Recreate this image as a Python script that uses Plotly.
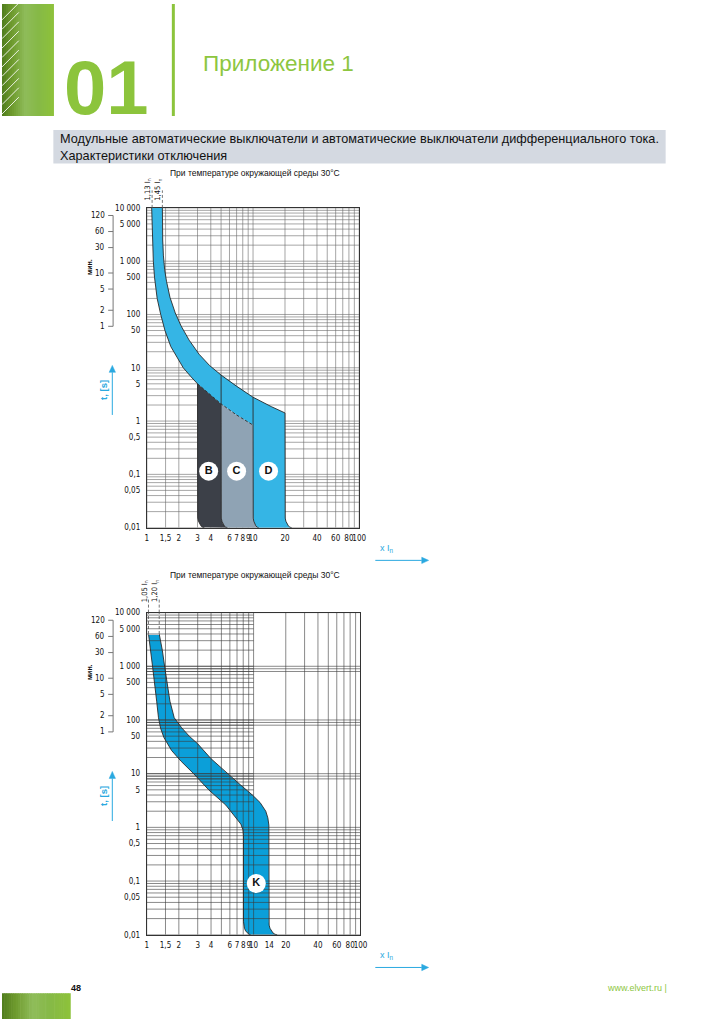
import math
import plotly.graph_objects as go

W, H = 724, 1024

# ===================== DATA =====================
# Chart 1 - thermal band of B/C/D (x = multiple of In, t = seconds)
LO_X = [1.11, 1.12, 1.13, 1.15, 1.18, 1.25, 1.35, 1.48, 1.68, 1.95, 2.2, 2.6, 3.0, 4.0, 5.0, 7.0, 10.0]
LO_T = [10000, 5000, 2000, 1000, 500, 200, 100, 50, 25, 15, 10, 6.8, 5, 3, 2.1, 1.3, 0.84]
HI_X = [1.40, 1.40, 1.41, 1.43, 1.47, 1.53, 1.65, 1.85, 2.1, 2.5, 3.1, 3.9, 5.0, 7.0, 10.0, 15.0, 20.0]
HI_T = [10000, 5000, 2500, 1300, 700, 420, 210, 107, 61, 33, 18, 11, 7.3, 4.5, 2.8, 1.85, 1.42]
# magnetic trip limits (vertical edges) and where their rounded foot meets t = 0.01
EDGE_X = [3.0, 5.0, 10.0, 20.0]
EDGE_FOOT_X = [3.48, 5.74, 11.3, 23.1]
ZONE_NAMES = ["B", "C", "D"]
ZONE_LBL_X = [3.82, 7.0, 14.0]
ZONE_LBL_T = [0.115, 0.115, 0.115]
LIMITS_1 = [1.12, 1.40]
LIMITS_1_LBL = ["1,13 I<sub>n</sub>", "1,45 I<sub>n</sub>"]

# Chart 2 - K characteristic
K_LO_X = [1.04, 1.09, 1.14, 1.24, 1.29, 1.35, 1.45, 1.71, 2.1, 2.75, 3.8, 5.5, 6.9, 7.6, 7.95, 8.05]
K_LO_T = [4000, 2000, 925, 224, 110, 70, 47, 27, 17, 10, 5, 2.6, 1.5, 1.15, 0.9, 0.7]
K_HI_X = [1.31, 1.40, 1.48, 1.65, 1.81, 2.12, 2.5, 3.0, 4.0, 5.7, 7.6, 9.75, 11.5, 13.0, 13.6, 13.9]
K_HI_T = [4000, 2000, 925, 224, 110, 72, 50, 36, 19, 10, 6.1, 4.0, 2.9, 2.0, 1.5, 1.1]
K_FOOT_X = [9.4, 16.6]
K_LBL_X, K_LBL_T = [10.6], [0.09]
LIMITS_2 = [1.04, 1.31]
LIMITS_2_LBL = ["1,05 I<sub>n</sub>", "1,20 I<sub>n</sub>"]

# axes / ticks
X_TICKS_1 = [1, 1.5, 2, 3, 4, 6, 7, 8, 9, 10, 20, 40, 60, 80, 100]
X_LBL_1 = ["1", "1,5", "2", "3", "4", "6", "7", "8", "9", "10", "20", "40", "60", "80", "100"]
X_TICKS_2 = [1, 1.5, 2, 3, 4, 6, 7, 8, 9, 10, 14, 20, 40, 60, 80, 100]
X_LBL_2 = ["1", "1,5", "2", "3", "4", "6", "7", "8", "9", "10", "14", "20", "40", "60", "80", "100"]
Y_TICKS = [10000, 5000, 1000, 500, 100, 50, 10, 5, 1, 0.5, 0.1, 0.05, 0.01]
Y_LBL = ["10 000", "5 000", "1 000", "500", "100", "50", "10", "5", "1", "0,5", "0,1", "0,05", "0,01"]
MIN_T = [7200, 3600, 1800, 600, 300, 120, 60]
MIN_LBL = ["120", "60", "30", "10", "5", "2", "1"]
X_GRID = [1, 1.5, 2, 3, 4, 5, 6, 7, 8, 9, 10, 20, 30, 40, 50, 60, 70, 80, 90, 100]
T_GRID = [m * 10.0 ** e for e in range(-2, 4) for m in range(1, 10)] + [10000]
T_GRID_RIGHT_2 = [1000, 900, 800, 100, 90, 80, 10, 9, 8]

# rounded foot profile of the vertical limit lines
CORNER_F = [0.0, 0.034, 0.134, 0.293, 0.5, 0.741, 1.0]
CORNER_T = [0.0175, 0.0151, 0.0132, 0.0118, 0.0108, 0.0102, 0.01]

# ===================== STYLE =====================
FONT = "Liberation Sans, Arial, Helvetica, sans-serif"
NARROW = "Liberation Sans Narrow, Arial Narrow, DejaVu Sans Condensed, sans-serif"
BLUE1 = "#35b5e5"
BLUE2 = "#0b9fd9"
DARK = "#3c4048"
GREYB = "#8fa3b4"
LINE = "#2a2a2a"
ARROW = "#2aa9e0"
GREEN = "#8cc43c"

TOP = dict(l=146.7, r=361.7, t=205.7, b=528.3)
BOT = dict(l=146.5, r=363.0, t=614.0, b=939.0)


def px(x):
    return x / W


def py(y):
    return 1 - y / H


fig = go.Figure()


def foot(x0, xe):
    return [x0 * (xe / x0) ** f for f in CORNER_F]


def add_line(xs, ys, axes, color=LINE, width=0.9, dash="solid"):
    fig.add_trace(go.Scatter(x=xs, y=ys, mode="lines", xaxis=axes[0], yaxis=axes[1],
                             line=dict(color=color, width=width, dash=dash),
                             hoverinfo="skip", showlegend=False))


def add_fill(xs, ys, axes, color):
    fig.add_trace(go.Scatter(x=xs, y=ys, mode="lines", fill="toself", fillcolor=color,
                             xaxis=axes[0], yaxis=axes[1], line=dict(width=0, color=color),
                             hoverinfo="skip", showlegend=False))


def add_grid(axes, xgrid, tfull, tshort, xshort, color, width):
    gx, gy = [], []
    for x in xgrid:
        gx += [x, x, None]
        gy += [0.01, 10000, None]
    for t in tfull:
        gx += [1, 100, None]
        gy += [t, t, None]
    for t in tshort:
        gx += [1, xshort, None]
        gy += [t, t, None]
    add_line(gx, gy, axes, color=color, width=width)


A1 = ("x", "y")
A2 = ("x2", "y2")

# ---------- chart 1 ----------
add_grid(A1, X_GRID, T_GRID, [], 100, "#6a6a6a", 0.6)

feet = [foot(x0, xe) for x0, xe in zip(EDGE_X, EDGE_FOOT_X)]
i3, i5, i10 = LO_X.index(EDGE_X[0]), LO_X.index(EDGE_X[1]), LO_X.index(EDGE_X[2])

# blue: thermal band + D zone
bx = LO_X + feet[2] + feet[3][::-1] + HI_X[::-1]
bt = LO_T + CORNER_T + CORNER_T[::-1] + HI_T[::-1]
add_fill(bx, bt, A1, BLUE1)
# B zone
add_fill(LO_X[i3:i5 + 1] + feet[1] + feet[0][::-1],
         LO_T[i3:i5 + 1] + CORNER_T + CORNER_T[::-1], A1, DARK)
# C zone
add_fill(LO_X[i5:i10 + 1] + feet[2] + feet[1][::-1],
         LO_T[i5:i10 + 1] + CORNER_T + CORNER_T[::-1], A1, GREYB)

# outlines
add_line(LO_X[:i3 + 1], LO_T[:i3 + 1], A1)
add_line(LO_X[i3:], LO_T[i3:], A1, dash="3px,2px")
add_line(HI_X, HI_T, A1)
for x0, fx in zip(EDGE_X, feet):
    top_t = HI_T[HI_X.index(x0)] if x0 in HI_X else LO_T[LO_X.index(x0)]
    add_line([x0] + fx, [top_t] + CORNER_T, A1)

fig.add_trace(go.Scatter(x=ZONE_LBL_X, y=ZONE_LBL_T, mode="markers+text", xaxis="x", yaxis="y",
                         marker=dict(size=19, color="white", line=dict(width=0)),
                         text=["<b>%s</b>" % n for n in ZONE_NAMES], textposition="middle center",
                         textfont=dict(size=11, color="#111", family=FONT),
                         hoverinfo="skip", showlegend=False))

# ---------- chart 2 ----------
kf_lo = foot(K_LO_X[-1], K_FOOT_X[0])
kf_hi = foot(K_HI_X[-1], K_FOOT_X[1])
add_fill(K_LO_X + kf_lo + kf_hi[::-1] + K_HI_X[::-1],
         K_LO_T + CORNER_T + CORNER_T[::-1] + K_HI_T[::-1], A2, BLUE2)
add_grid(A2, X_GRID, [t for t in T_GRID if t <= 1] + T_GRID_RIGHT_2 + [10000],
         [t for t in T_GRID if t > 1], 10, "#3a3a3a", 0.6)
add_line(K_LO_X + kf_lo, K_LO_T + CORNER_T, A2)
add_line(K_HI_X + kf_hi, K_HI_T + CORNER_T, A2)
add_line([K_LO_X[0], K_HI_X[0]], [K_LO_T[0], K_HI_T[0]], A2, color="#b8bcc0", width=2)
for xv, tv in zip(LIMITS_2, [K_LO_T[0], K_HI_T[0]]):
    add_line([xv, xv], [tv, 10000], A2, color="#555", width=0.8, dash="3px,2px")

fig.add_trace(go.Scatter(x=K_LBL_X, y=K_LBL_T, mode="markers+text", xaxis="x2", yaxis="y2",
                         marker=dict(size=19, color="white", line=dict(width=0)),
                         text=["<b>K</b>"], textposition="middle center",
                         textfont=dict(size=11, color="#111", family=FONT),
                         hoverinfo="skip", showlegend=False))

# ---------- axes ----------
def xaxis_cfg(box, ticks, labels, anchor):
    return dict(type="log", range=[0, 2], domain=[px(box["l"]), px(box["r"])], anchor=anchor,
                tickvals=ticks, ticktext=labels, tickangle=0, showgrid=False, zeroline=False,
                showline=True, mirror=True, linecolor="#333", linewidth=1, ticks="",
                ticklabelstandoff=3, tickfont=dict(family=NARROW, size=8, color="#111"), fixedrange=True)


def yaxis_cfg(box, anchor):
    return dict(type="log", range=[-2, 4], domain=[py(box["b"]), py(box["t"])], anchor=anchor,
                tickvals=Y_TICKS, ticktext=Y_LBL, showgrid=False, zeroline=False,
                showline=True, mirror=True, linecolor="#333", linewidth=1, ticks="",
                ticklabelstandoff=4, tickfont=dict(family=NARROW, size=8, color="#111"), fixedrange=True)


shapes = []
annotations = []


def ann(x, y, text, size=8, color="#111", xanchor="center", yanchor="middle", family=FONT, **kw):
    d = dict(x=x, y=y, xref=kw.pop("xref", "paper"), yref=kw.pop("yref", "paper"), text=text,
             showarrow=False, xanchor=xanchor, yanchor=yanchor,
             font=dict(family=family, size=size, color=color))
    d.update(kw)
    annotations.append(d)


def arrow(x0, y0, x1, y1, color, head=7.0, half=3.2):
    # line + filled triangular head (page pixel coordinates)
    dx, dy = x1 - x0, y1 - y0
    L = math.hypot(dx, dy)
    ux, uy = dx / L, dy / L
    bx, by = x1 - ux * head, y1 - uy * head
    shapes.append(dict(type="line", xref="paper", yref="paper", x0=px(x0), y0=py(y0),
                       x1=px(bx), y1=py(by), line=dict(color=color, width=1)))
    p1 = (bx - uy * half, by + ux * half)
    p2 = (bx + uy * half, by - ux * half)
    path = "M %.5f,%.5f L %.5f,%.5f L %.5f,%.5f Z" % (px(x1), py(y1), px(p1[0]), py(p1[1]), px(p2[0]), py(p2[1]))
    shapes.append(dict(type="path", xref="paper", yref="paper", path=path,
                       fillcolor=color, line=dict(color=color, width=0.5)))


# ---------- page decoration ----------
def lerp_col(stops, f):
    for (f0, c0), (f1, c1) in zip(stops[:-1], stops[1:]):
        if f0 <= f <= f1:
            u = (f - f0) / (f1 - f0) if f1 > f0 else 0
            a = [int(c0[i:i + 2], 16) for i in (1, 3, 5)]
            b = [int(c1[i:i + 2], 16) for i in (1, 3, 5)]
            return "rgb(%d,%d,%d)" % tuple(round(a[k] + (b[k] - a[k]) * u) for k in range(3))
    return stops[-1][1]


GRAD = [(0.0, "#4f7c1c"), (0.2, "#6f9b2e"), (0.45, "#8fbc5a"), (0.7, "#86b947"), (1.0, "#8dc23a")]


def grad_block(x0, x1, y0, y1, n):
    w = (x1 - x0) / n
    for i in range(n):
        shapes.append(dict(type="rect", xref="paper", yref="paper",
                           x0=px(x0 + i * w), x1=px(x0 + (i + 1) * w + 0.6), y0=py(y1), y1=py(y0),
                           fillcolor=lerp_col(GRAD, (i + 0.5) / n), line=dict(width=0), layer="below"))


grad_block(0, 52, 0, 113, 26)
for k in range(11):
    y0 = 16 + 9.5 * k
    shapes.append(dict(type="line", xref="paper", yref="paper", x0=px(0), y0=py(y0),
                       x1=px(17), y1=py(y0 - 17), line=dict(color="rgba(255,255,255,0.85)", width=1)))
grad_block(0, 69, 998, 1024, 30)
shapes.append(dict(type="line", xref="paper", yref="paper", x0=px(173.5), x1=px(173.5),
                   y0=py(0), y1=py(113), line=dict(color=GREEN, width=3)))
shapes.append(dict(type="rect", xref="paper", yref="paper", x0=px(52), x1=px(672),
                   y0=py(161), y1=py(127), fillcolor="#d4d9e1", line=dict(width=0), layer="below"))

ann(px(106), py(84), "<b>01</b>", size=76, color=GREEN)
ann(px(201), py(60), "Приложение 1", size=22.5, color="#8dc63f", xanchor="left")
ann(px(57), py(136), "Модульные автоматические выключатели и автоматические выключатели дифференциального тока.",
    size=12.7, xanchor="left")
ann(px(57), py(153), "Характеристики отключения", size=12.7, xanchor="left")
ann(px(68), py(993), "<b>48</b>", size=9, xanchor="left")
ann(px(675), py(993), "www.elvert.ru |", size=9, color="#8dc63f", xanchor="right")

# ---------- per-chart decoration ----------
for box, xa, ya, limits, lim_lbl, lbl_y, lim_top in [
        (TOP, "x", "y", LIMITS_1, LIMITS_1_LBL, 187, 188),
        (BOT, "x2", "y2", LIMITS_2, LIMITS_2_LBL, 592, 600)]:
    ann(px(256), py(box["t"] - 35 if xa == "x" else box["t"] - 38), "При температуре окружающей среды 30°C", size=8.5)
    # minutes scale
    shapes.append(dict(type="line", xref="paper", yref=ya, x0=px(112.5), x1=px(112.5),
                       y0=MIN_T[-1], y1=MIN_T[0], line=dict(color="#777", width=1)))
    for t, lbl in zip(MIN_T, MIN_LBL):
        shapes.append(dict(type="line", xref="paper", yref=ya, x0=px(107.5), x1=px(112.5),
                           y0=t, y1=t, line=dict(color="#777", width=1)))
        ann(px(106), math.log10(t), lbl, size=8, family=NARROW, xanchor="right", yref=ya)
    mid_min = box["t"] + (box["b"] - box["t"]) * 0.185
    ann(px(88), py(mid_min), "<b>мин.</b>", size=7, textangle=-90)
    # t [s] arrow
    ts_y = box["t"] + (box["b"] - box["t"]) * 0.57
    ann(px(102), py(ts_y), "<b>t, [s]</b>", size=9.5, color=ARROW, textangle=-90)
    arrow(111.7, ts_y + 25, 111.7, ts_y - 25, ARROW)
    # x In arrow
    ax_y = box["b"] + 33
    ann(px(381), py(ax_y - 12), "x I<sub>n</sub>", size=9, color=ARROW, xanchor="left")
    arrow(378, ax_y, 432, ax_y, ARROW)
    # limit labels + dashed leaders above the grid
    for xv, lbl in zip(limits, lim_lbl):
        shapes.append(dict(type="line", xref=xa, yref="paper", x0=xv, x1=xv,
                           y0=py(box["t"]), y1=py(lim_top), line=dict(color="#555", width=0.8, dash="3px,2px")))
        ann(math.log10(xv), py(lbl_y), lbl, size=7.5, family=NARROW, xref=xa, textangle=-90, xshift=-4)

fig.update_layout(
    width=W, height=H, margin=dict(l=0, r=0, t=0, b=0),
    paper_bgcolor="white", plot_bgcolor="white", showlegend=False,
    xaxis=xaxis_cfg(TOP, X_TICKS_1, X_LBL_1, "y"),
    yaxis=yaxis_cfg(TOP, "x"),
    xaxis2=xaxis_cfg(BOT, X_TICKS_2, X_LBL_2, "y2"),
    yaxis2=yaxis_cfg(BOT, "x2"),
    shapes=shapes, annotations=annotations,
    font=dict(family=FONT),
)

PAGE_JS = (
    "var h=document.documentElement,b=document.body;"
    "[h,b].forEach(function(e){e.style.margin='0px';e.style.padding='0px';"
    "e.style.overflow='hidden';e.style.height='1024px';e.style.lineHeight='0';});"
)

fig.write_html("out.html", config={"displayModeBar": False, "responsive": False},
               post_script=PAGE_JS)
